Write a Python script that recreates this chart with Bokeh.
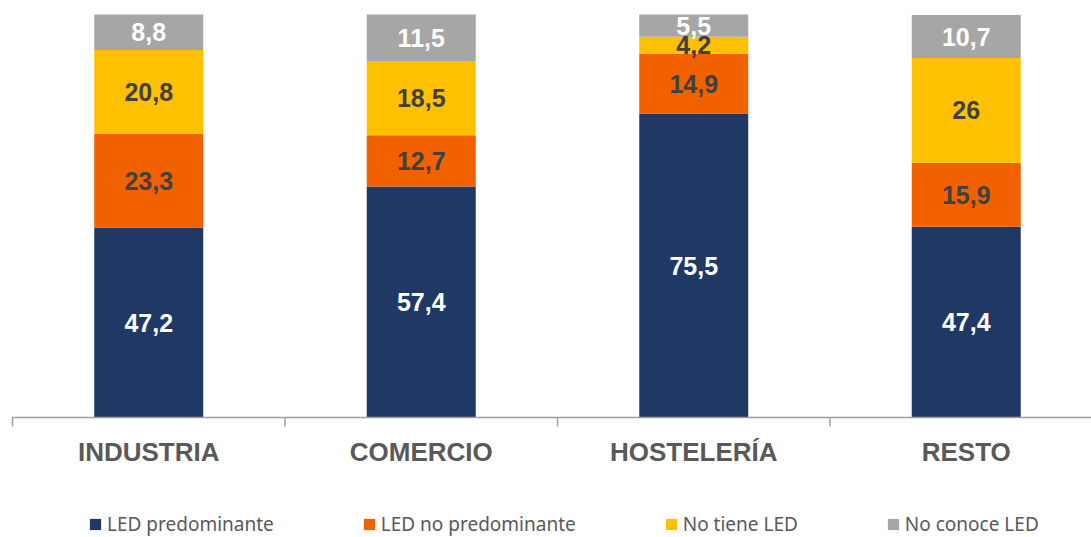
from bokeh.plotting import figure
from bokeh.models import Range1d, Legend, LegendItem, ColumnDataSource
from bokeh.core.properties import value
from bokeh.embed import file_html
from bokeh.resources import INLINE

categories = ["INDUSTRIA", "COMERCIO", "HOSTELERÍA", "RESTO"]
series_names = ["LED predominante", "LED no predominante", "No tiene LED", "No conoce LED"]
led_predominante = [47.2, 57.4, 75.5, 47.4]
led_no_predominante = [23.3, 12.7, 14.9, 15.9]
no_tiene_led = [20.8, 18.5, 4.2, 26.0]
no_conoce_led = [8.8, 11.5, 5.5, 10.7]

series = [led_predominante, led_no_predominante, no_tiene_led, no_conoce_led]
keys = ["s0", "s1", "s2", "s3"]
colors = ["#203864", "#F26100", "#FFC000", "#A6A6A6"]
label_colors = ["#FFFFFF", "#404040", "#404040", "#FFFFFF"]
axis_color = "#A0A0A0"
cat_color = "#595959"

xs = [i + 0.5 for i in range(len(categories))]
data = {"x": xs}
for k, s in zip(keys, series):
    data[k] = s
source = ColumnDataSource(data)

# layout geometry (pixels)
W, H = 1091, 537
left_px = 12          # where the category axis starts
unit_px = 272.5       # width of one category slot
base_px = 417         # baseline, from the top
py = 4.025            # pixels per percentage point

p = figure(width=W, height=H,
           x_range=Range1d(-left_px / unit_px, (W - left_px) / unit_px),
           y_range=Range1d(-(H - base_px) / py, base_px / py),
           output_backend="svg", toolbar_location=None,
           x_axis_location=None, y_axis_location=None,
           min_border=0, min_border_left=0, min_border_right=0,
           min_border_top=0, min_border_bottom=0)
p.outline_line_color = None
p.xgrid.visible = False
p.ygrid.visible = False

renderers = p.vbar_stack(keys, x="x", width=0.4, color=colors, line_color=None, source=source)

# value labels
bottom = [0.0] * len(categories)
for s, lc in zip(series, label_colors):
    mids = [b + v / 2 for b, v in zip(bottom, s)]
    txt = [f"{v:g}".replace(".", ",") for v in s]
    p.text(x=xs, y=mids, text=txt, text_align="center", text_baseline="middle",
           text_font=value("Liberation Sans"), text_font_style="bold", text_font_size="25px",
           text_color=lc)
    bottom = [b + v for b, v in zip(bottom, s)]

# category axis: baseline, separator ticks and labels
n = len(categories)
p.segment(x0=[0], y0=[0], x1=[n], y1=[0], line_color=axis_color, line_width=1.5)
tick_x = list(range(n + 1))
p.segment(x0=tick_x, y0=[0] * (n + 1), x1=tick_x, y1=[-9 / py] * (n + 1),
          line_color=axis_color, line_width=1.5)
p.text(x=xs, y=[-34 / py] * n, text=categories, text_align="center", text_baseline="middle",
       text_font=value("Liberation Sans"), text_font_style="bold", text_font_size="26px",
       text_color=cat_color)

legend = Legend(items=[LegendItem(label=nm, renderers=[r]) for nm, r in zip(series_names, renderers)],
                orientation="horizontal", location=(88, 0), spacing=88,
                glyph_width=14, glyph_height=14, label_standoff=5, padding=0, margin=0,
                label_height=14,
                border_line_color=None, background_fill_alpha=0,
                label_text_font="Noto Sans", label_text_font_size="19px",
                label_text_color=cat_color)
p.add_layout(legend)

open("out.html", "w").write(file_html(p, INLINE))
